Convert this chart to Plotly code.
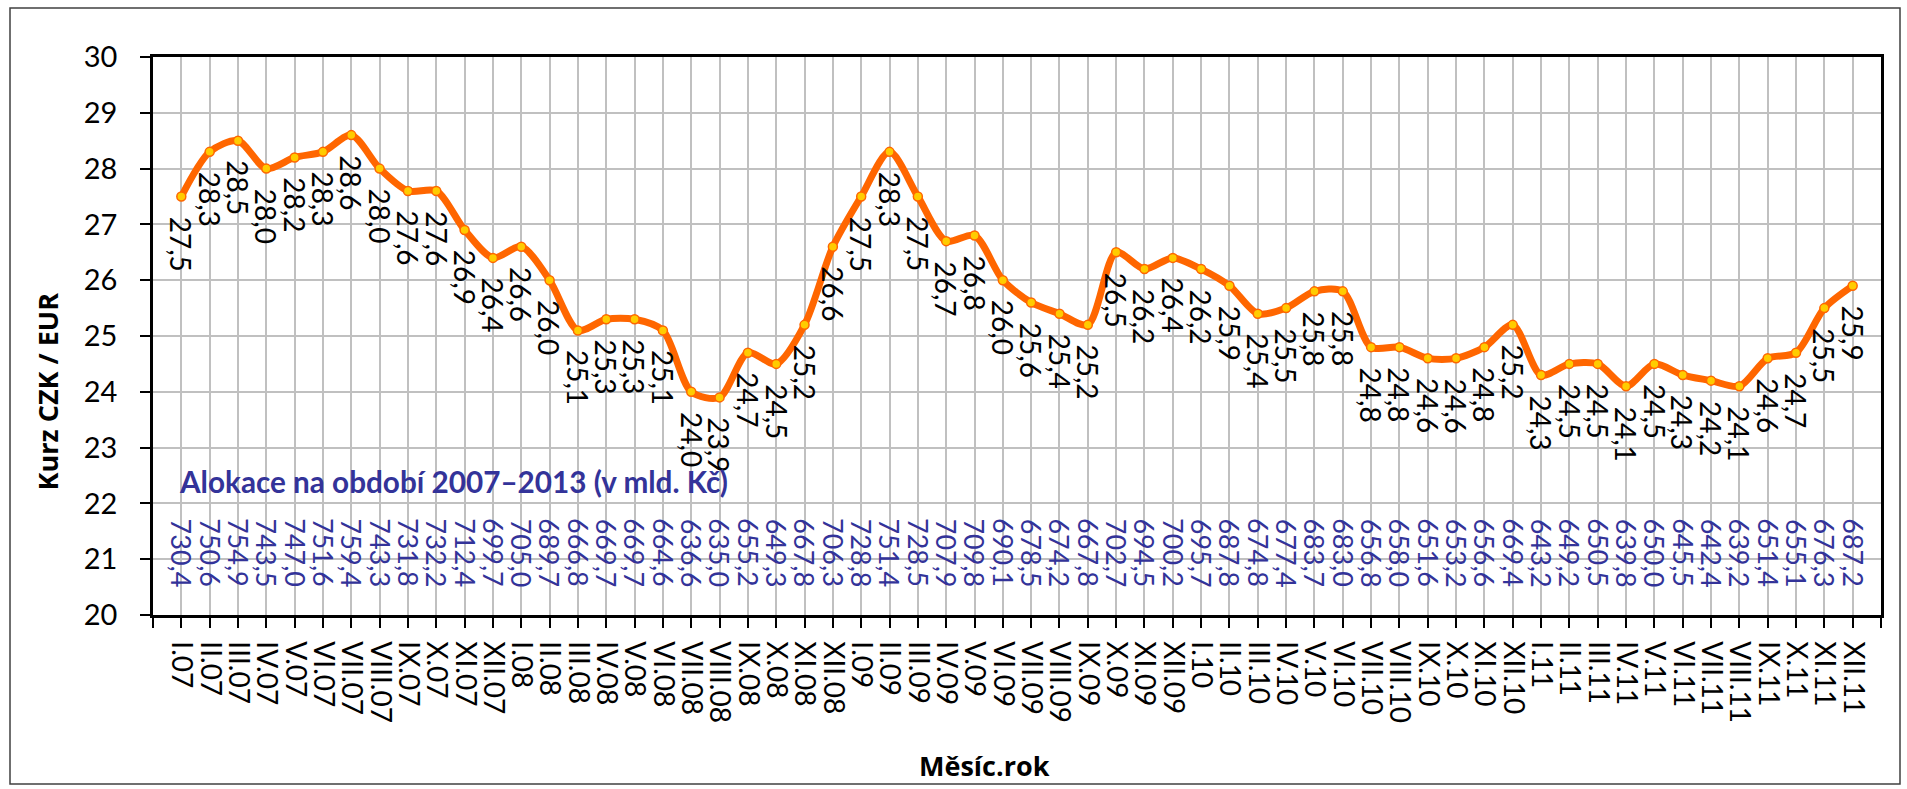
import plotly.graph_objects as go

mesice = ["I", "II", "III", "IV", "V", "VI", "VII", "VIII", "IX", "X", "XI", "XII"]
roky = ["07", "08", "09", "10", "11"]
kategorie = [m + "." + r for r in roky for m in mesice]

# kurz CZK/EUR (mesicni prumer)
kurz = [27.5, 28.3, 28.5, 28.0, 28.2, 28.3, 28.6, 28.0, 27.6, 27.6, 26.9, 26.4,
        26.6, 26.0, 25.1, 25.3, 25.3, 25.1, 24.0, 23.9, 24.7, 24.5, 25.2, 26.6,
        27.5, 28.3, 27.5, 26.7, 26.8, 26.0, 25.6, 25.4, 25.2, 26.5, 26.2, 26.4,
        26.2, 25.9, 25.4, 25.5, 25.8, 25.8, 24.8, 24.8, 24.6, 24.6, 24.8, 25.2,
        24.3, 24.5, 24.5, 24.1, 24.5, 24.3, 24.2, 24.1, 24.6, 24.7, 25.5, 25.9]

# alokace 2007-2013 v mld. Kc
alokace = [730.4, 750.6, 754.9, 743.5, 747.0, 751.6, 759.4, 743.3, 731.8, 732.2, 712.4, 699.7,
           705.0, 689.7, 666.8, 669.7, 669.7, 664.6, 636.6, 635.0, 655.2, 649.3, 667.8, 706.3,
           728.8, 751.4, 728.5, 707.9, 709.8, 690.1, 678.5, 674.2, 667.8, 702.7, 694.5, 700.2,
           695.7, 687.8, 674.8, 677.4, 683.7, 683.0, 656.8, 658.0, 651.6, 653.2, 656.6, 669.4,
           643.2, 649.2, 650.5, 639.8, 650.0, 645.5, 642.4, 639.2, 651.4, 655.1, 676.3, 687.2]

ALOKACE_Y = 22  # uroven radku s alokaci
FONT = "Lato, 'Open Sans', sans-serif"
FONT_B = "'Open Sans', Lato, sans-serif"
MODRA = "#333399"

def cz(v):
    return f"{v:.1f}".replace(".", ",")

x = list(range(len(kurz)))

fig = go.Figure()
fig.add_trace(go.Scatter(
    x=x, y=kurz, mode="lines+markers",
    line=dict(color="#FF6600", width=7, shape="spline", smoothing=0.8),
    marker=dict(size=9, color="#FFCC00", line=dict(color="#FF6600", width=1.5)),
    hoverinfo="skip", showlegend=False,
))

ann = []
for i, v in enumerate(kurz):
    ann.append(dict(x=i, y=v, text=cz(v), showarrow=False, textangle=90,
                    xanchor="center", yanchor="top", yshift=-18,
                    font=dict(family=FONT, size=28, color="black")))
for i, v in enumerate(alokace):
    ann.append(dict(x=i, y=ALOKACE_Y, text=cz(v), showarrow=False, textangle=90,
                    xanchor="center", yanchor="top", yshift=-13,
                    font=dict(family=FONT, size=27, color=MODRA)))

ann.append(dict(xref="paper", yref="paper", x=0.014, y=0.24, xanchor="left", yanchor="middle",
                text="<b>Alokace na období 2007–2013 (v mld. Kč)</b>", showarrow=False,
                font=dict(family=FONT, size=29.7, color=MODRA)))
ann.append(dict(xref="paper", yref="paper", x=-0.061, y=0.40, textangle=-90,
                xanchor="center", yanchor="middle",
                text="<b>Kurz CZK / EUR</b>", showarrow=False,
                font=dict(family=FONT_B, size=27, color="black")))
ann.append(dict(xref="paper", yref="paper", x=0.481, y=-0.269,
                xanchor="center", yanchor="middle",
                text="<b>Měsíc.rok</b>", showarrow=False,
                font=dict(family=FONT_B, size=27, color="black")))

fig.update_layout(
    width=1907, height=789,
    margin=dict(l=153, r=26, t=57, b=174),
    paper_bgcolor="white", plot_bgcolor="white",
    annotations=ann,
    shapes=[dict(type="rect", xref="paper", yref="paper",
                 x0=-143 / 1728, x1=1747 / 1728, y0=-169 / 558, y1=607 / 558,
                 line=dict(color="#404040", width=1.5))],
)
fig.update_xaxes(
    range=[-1, len(kurz)], tickmode="array",
    tickvals=list(range(-1, len(kurz) + 1)), ticktext=[""] + kategorie + [""],
    tickangle=90, ticks="outside", ticklen=10, tickwidth=2, tickcolor="black",
    showline=True, linecolor="black", linewidth=2.5, mirror=True,
    showgrid=True, gridcolor="#C0C0C0", gridwidth=2, zeroline=False,
    tickfont=dict(family=FONT, size=28, color="black"), ticklabelstandoff=8,
)
fig.update_yaxes(
    range=[20, 30], dtick=1, ticks="outside", ticklen=10, tickwidth=2, tickcolor="black",
    showline=True, linecolor="black", linewidth=2.5, mirror=True,
    showgrid=True, gridcolor="#C0C0C0", gridwidth=2, zeroline=False,
    tickfont=dict(family=FONT, size=29, color="black"), ticklabelstandoff=17,
)

fig.write_html("out.html", config={"displayModeBar": False},
               post_script="document.body.style.margin='0';")
